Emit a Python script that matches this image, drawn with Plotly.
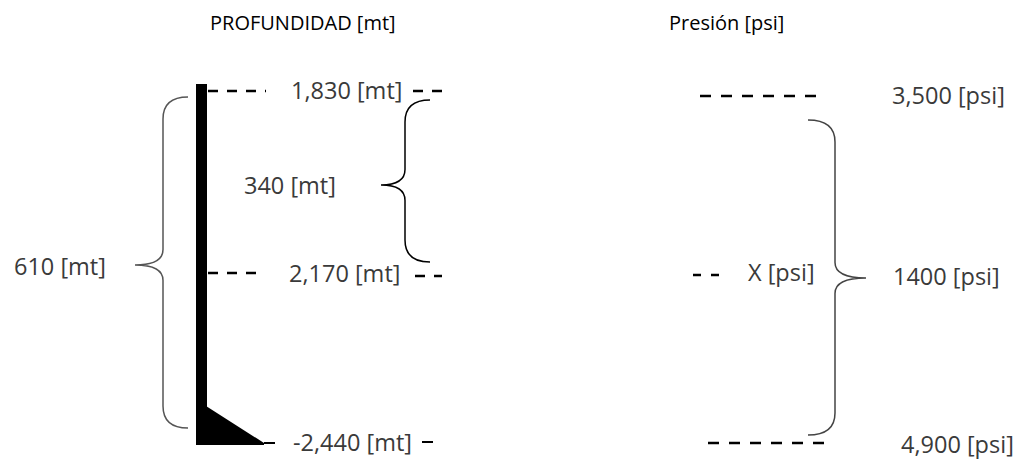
import plotly.graph_objects as go

# canvas is laid out in screen pixels (1023 x 460), y grows downward
W, H = 1023, 460

titles = ["PROFUNDIDAD [mt]", "Presión [psi]"]
title_x = [303, 726]

depth_labels = ["1,830 [mt]", "2,170 [mt]", "-2,440 [mt]"]
depth_x = [346, 344, 352]
depth_y = [90, 273, 442]

pressure_labels = ["3,500 [psi]", "X [psi]", "4,900 [psi]"]
pressure_x = [948, 781, 957]
pressure_y = [95, 272, 444]

span_labels = ["610 [mt]", "340 [mt]", "1400 [psi]"]
span_x = [60, 290, 946]
span_y = [266, 185, 276]

FONT = "Open Sans"
TXT = "#3a3a3a"
LBL = 23.5

fig = go.Figure()
fig.add_trace(go.Scatter(x=[0, W], y=[0, H], mode="markers",
                         marker=dict(opacity=0), hoverinfo="skip", showlegend=False))

shapes = []

def dash(x0, x1, y, pattern="10px,9px", width=2.5):
    shapes.append(dict(type="line", x0=x0, x1=x1, y0=y, y1=y,
                       line=dict(color="black", width=width, dash=pattern)))

def brace(xr, xm, xl, y0, ym, y1, color, r=22):
    # curly brace: ends at xr, spine at xm, tip at xl
    p = (f"M {xr},{y0} Q {xm},{y0} {xm},{y0 + r} L {xm},{ym - r * 0.7} "
         f"Q {xm},{ym} {xl},{ym} Q {xm},{ym} {xm},{ym + r * 0.7} "
         f"L {xm},{y1 - r} Q {xm},{y1} {xr},{y1}")
    shapes.append(dict(type="path", path=p, line=dict(color=color, width=1.5)))

# well column
shapes.append(dict(type="rect", x0=196, x1=207, y0=84, y1=445,
                   fillcolor="black", line=dict(width=0)))
shapes.append(dict(type="path", path="M 206,406 L 264,443 L 264,445 L 206,445 Z",
                   fillcolor="black", line=dict(width=0)))

# depth dashes
dash(208, 266, depth_y[0] + 1)
dash(413, 442, depth_y[0] + 1)
dash(208, 262, depth_y[1])
dash(415, 442, depth_y[1] + 3)
dash(264, 275, depth_y[2] + 1, "solid", 2)
dash(422, 433, depth_y[2], "solid", 2)

# pressure dashes
dash(700, 818, 96, "11px,10px")
dash(693, 724, 275, "8px,10px")
dash(708, 828, 443, "11px,10px")

# braces
brace(188, 163, 135, 97, 265, 428, "#555555")
brace(430, 405, 381, 100, 185, 262, "black")
brace(808, 835, 866, 120, 278, 435, "#444444")

fig.update_layout(shapes=shapes)

for t, x in zip(titles, title_x):
    fig.add_annotation(x=x, y=22, text=t, showarrow=False,
                       font=dict(family=FONT, size=20, color="black"))
for t, x, y in zip(depth_labels, depth_x, depth_y):
    fig.add_annotation(x=x, y=y, text=t, showarrow=False,
                       font=dict(family=FONT, size=LBL, color=TXT))
for t, x, y in zip(pressure_labels, pressure_x, pressure_y):
    fig.add_annotation(x=x, y=y, text=t, showarrow=False,
                       font=dict(family=FONT, size=LBL, color=TXT))
for t, x, y in zip(span_labels, span_x, span_y):
    fig.add_annotation(x=x, y=y, text=t, showarrow=False,
                       font=dict(family=FONT, size=LBL, color=TXT))

fig.update_xaxes(range=[0, W], visible=False, fixedrange=True)
fig.update_yaxes(range=[H, 0], visible=False, fixedrange=True)
fig.update_layout(width=W, height=H, margin=dict(l=0, r=0, t=0, b=0),
                  paper_bgcolor="white", plot_bgcolor="white", showlegend=False)

# drop the default page margin so the figure fills the window exactly
fig.write_html("out.html", config={"displayModeBar": False},
               post_script="document.body.style.margin='0';"
                           "document.body.style.overflow='hidden';")
